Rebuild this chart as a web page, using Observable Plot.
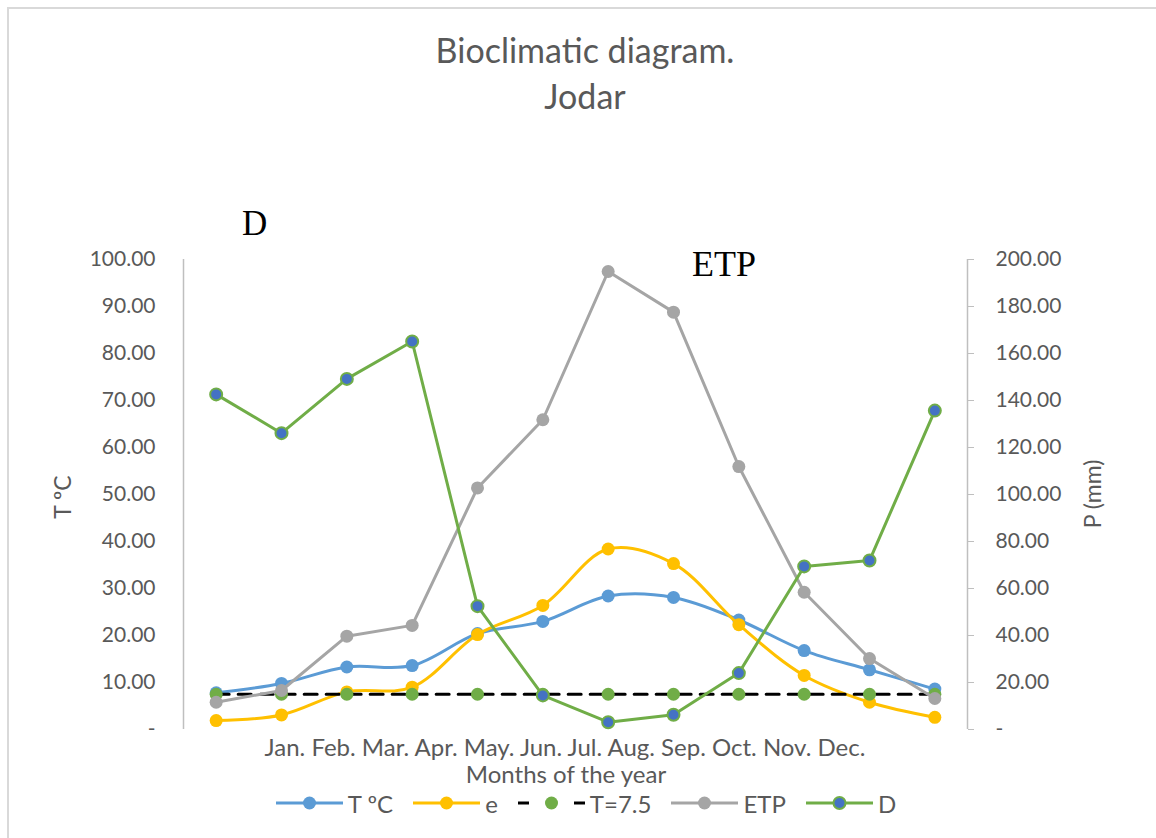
<!DOCTYPE html>
<html>
<head>
<meta charset="utf-8">
<script src="https://cdn.jsdelivr.net/npm/d3@7"></script>
<script src="https://cdn.jsdelivr.net/npm/@observablehq/plot@0.6"></script>
<style>
  body { margin: 0; background: #fff; font-family: Lato, "Open Sans", sans-serif; }
  #wrap { position: relative; width: 1156px; height: 838px; overflow: hidden; background: #fff; }
  .abs { position: absolute; white-space: nowrap; color: #595959; }
  #chart { position: absolute; left: 0; top: 0; }
  .serif { font-family: "Liberation Serif", "DejaVu Serif", serif; color: #000; }
  #legend { position: absolute; left: 0; width: 1172px; top: 790px; display: flex; justify-content: center; gap: 20px; color: #595959; font-size: 24px; }
  #legend .item { display: flex; align-items: center; gap: 5px; height: 26px; }
</style>
</head>
<body>
<div id="wrap">
  <div class="abs" style="left:7px;top:7px;width:1200px;height:900px;border-left:2px solid #d9d9d9;border-top:2px solid #d9d9d9;"></div>
  <div id="title" class="abs" style="left:0;width:1170px;top:27px;text-align:center;font-size:34px;line-height:46px;"></div>
  <div id="chart"></div>
  <div class="abs serif" style="left:242px;top:206px;font-size:35px;line-height:35px;">D</div>
  <div class="abs serif" style="left:692px;top:246px;font-size:36px;line-height:36px;">ETP</div>
  <div id="months" class="abs" style="left:0;width:1130px;top:735px;text-align:center;font-size:24px;line-height:24px;"></div>
  <div class="abs" style="left:0;width:1132px;top:762px;text-align:center;font-size:24px;line-height:24px;">Months of the year</div>
  <div class="abs" style="left:62px;top:497px;transform:translate(-50%,-50%) rotate(-90deg);font-size:23px;">T ºC</div>
  <div class="abs" style="left:1092px;top:494px;transform:translate(-50%,-50%) rotate(-90deg);font-size:23px;">P (mm)</div>
  <div id="legend"></div>
</div>
<script>
// ---- data ----
const titleLines = ["Bioclimatic diagram.", "Jodar"];
const months = ["Jan.", "Feb.", "Mar.", "Apr.", "May.", "Jun.", "Jul.", "Aug.", "Sep.", "Oct.", "Nov.", "Dec."];
const tempC   = [7.8, 9.8, 13.3, 13.6, 20.4, 23.0, 28.4, 28.1, 23.3, 16.8, 12.7, 8.6];      // T ºC (left axis)
const evap    = [1.9, 3.1, 8.0, 9.0, 20.2, 26.4, 38.4, 35.3, 22.3, 11.5, 5.8, 2.6];         // e (left axis)
const tLimit  = [7.5, 7.5, 7.5, 7.5, 7.5, 7.5, 7.5, 7.5, 7.5, 7.5, 7.5, 7.5];               // T=7.5 (left axis)
const etpMm   = [11.6, 16.6, 39.7, 44.3, 102.8, 131.8, 194.9, 177.6, 111.9, 58.4, 30.2, 13.2]; // ETP (right axis, mm)
const dMm     = [142.6, 126.1, 149.2, 165.1, 52.5, 14.5, 3.1, 6.3, 24.0, 69.4, 71.9, 135.7];   // D (right axis, mm)
const leftTicks  = [0, 10, 20, 30, 40, 50, 60, 70, 80, 90, 100];
const rightTicks = [0, 20, 40, 60, 80, 100, 120, 140, 160, 180, 200];
const legendNames = ["T ºC", "e", "T=7.5", "ETP", "D"];

// ---- colours ----
const cT = "#5B9BD5", cE = "#FFC000", cG = "#A5A5A5", cD = "#70AD47", cDot = "#4472C4", axisGrey = "#bfbfbf";

document.getElementById("title").innerHTML = titleLines.join("<br>");
document.getElementById("months").textContent = months.join(" ");

// right axis (mm) is twice the left axis (ºC)
const rightScale = 2;
const rows = months.map((m, i) => ({
  i, month: m, T: tempC[i], e: evap[i], lim: tLimit[i], etp: etpMm[i] / rightScale, d: dMm[i] / rightScale
}));

const chart = Plot.plot({
  width: 1156,
  height: 838,
  marginTop: 259,
  marginBottom: 109,
  marginLeft: 183,
  marginRight: 189,
  style: { fontFamily: "Lato, 'Open Sans', sans-serif", fontSize: "21px", color: "#595959", background: "transparent" },
  x: { domain: [-0.5, months.length - 0.5], axis: null },
  y: { domain: [0, 100], axis: null },
  marks: [
    Plot.ruleX([-0.5, months.length - 0.5], { stroke: axisGrey, strokeWidth: 1.5 }),
    Plot.axisY(leftTicks, { anchor: "left", tickSize: 0, tickPadding: 28, label: null,
      tickFormat: d => d === 0 ? "-" : d.toFixed(2) }),
    Plot.axisY(rightTicks.map(v => v / rightScale), { anchor: "right", tickSize: 6, tickPadding: 22, label: null,
      stroke: axisGrey, tickFormat: d => d === 0 ? "-" : (d * rightScale).toFixed(2) }),
    // T ºC
    Plot.line(rows, { x: "i", y: "T", stroke: cT, strokeWidth: 3, curve: "catmull-rom" }),
    Plot.dot(rows, { x: "i", y: "T", r: 6.5, fill: cT }),
    // e
    Plot.line(rows, { x: "i", y: "e", stroke: cE, strokeWidth: 3, curve: "catmull-rom" }),
    Plot.dot(rows, { x: "i", y: "e", r: 6.5, fill: cE }),
    // T=7.5
    Plot.line(rows, { x: "i", y: "lim", stroke: "#000", strokeWidth: 3, strokeDasharray: "13,9" }),
    Plot.dot(rows, { x: "i", y: "lim", r: 6.5, fill: cD }),
    // ETP
    Plot.line(rows, { x: "i", y: "etp", stroke: cG, strokeWidth: 3 }),
    Plot.dot(rows, { x: "i", y: "etp", r: 6.5, fill: cG }),
    // D
    Plot.line(rows, { x: "i", y: "d", stroke: cD, strokeWidth: 3 }),
    Plot.dot(rows, { x: "i", y: "d", r: 6, fill: cDot, stroke: cD, strokeWidth: 2 })
  ]
});
document.getElementById("chart").appendChild(chart);

// ---- legend ----
const legendStyles = [
  { stroke: cT, dot: cT },
  { stroke: cE, dot: cE },
  { stroke: "#000", dot: cD, dashed: true },
  { stroke: cG, dot: cG },
  { stroke: cD, dot: cDot, dotStroke: cD }
];
const leg = document.getElementById("legend");
legendNames.forEach((name, k) => {
  const s = legendStyles[k];
  const item = document.createElement("div");
  item.className = "item";
  const line = s.dashed
    ? `<line x1="0" x2="11" y1="13" y2="13" stroke="#000" stroke-width="3"/><line x1="56" x2="67" y1="13" y2="13" stroke="#000" stroke-width="3"/>`
    : `<line x1="0" x2="67" y1="13" y2="13" stroke="${s.stroke}" stroke-width="3"/>`;
  item.innerHTML = `<svg width="67" height="26">${line}<circle cx="33.5" cy="13" r="${s.dotStroke ? 6 : 6.5}" fill="${s.dot}" ${s.dotStroke ? `stroke="${s.dotStroke}" stroke-width="2"` : ""}/></svg><span>${name}</span>`;
  leg.appendChild(item);
});
</script>
</body>
</html>
